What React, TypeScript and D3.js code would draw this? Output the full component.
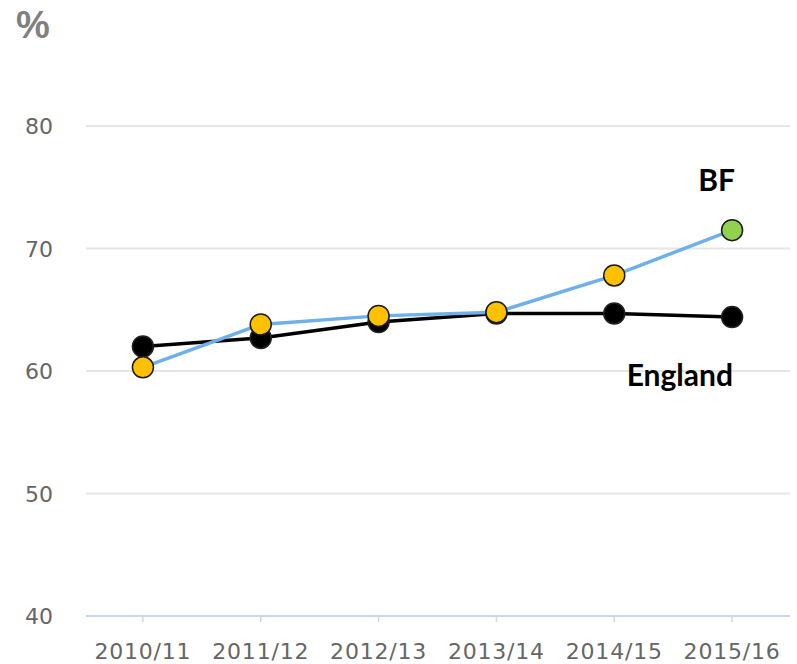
import React from "react";
import * as d3 from "d3";

const categories = ["2010/11", "2011/12", "2012/13", "2013/14", "2014/15", "2015/16"];
const englandValues = [62.0, 62.7, 64.0, 64.7, 64.7, 64.4];
const bfValues = [60.3, 63.8, 64.5, 64.8, 67.8, 71.5];
const bfColors = ["#FFC000", "#FFC000", "#FFC000", "#FFC000", "#FFC000", "#92D050"];
const yTicks = [40, 50, 60, 70, 80];

export default function App() {
  const W = 797, H = 664;
  const x = d3.scaleBand<string>().domain(categories).range([84, 791]);
  const y = d3.scaleLinear().domain([40, 80]).range([616, 126]);
  const cx = (c: string) => (x(c) as number) + x.bandwidth() / 2;
  const line = d3.line<number>().x((_, i) => cx(categories[i])).y(v => y(v));

  return (
    <svg width={W} height={H} style={{ position: "absolute", left: 0, top: 0, background: "#fff" }}>
      <text x={16} y={38} fontFamily="Liberation Sans, Arial, sans-serif" fontWeight="bold" fontSize={38} fill="#808080">%</text>
      {yTicks.map(t => (
        <g key={t}>
          {t !== 40 && <line x1={86} x2={790} y1={y(t)} y2={y(t)} stroke="#e6e6e6" strokeWidth={2} />}
          <text x={53} y={y(t) + 8} textAnchor="end" fontFamily="DejaVu Sans, sans-serif" fontSize={22} fill="#666">{t}</text>
        </g>
      ))}
      <line x1={86} x2={790} y1={y(40)} y2={y(40)} stroke="#ccd6eb" strokeWidth={2} />
      {categories.map(c => (
        <g key={c}>
          <line x1={cx(c)} x2={cx(c)} y1={y(40)} y2={y(40) + 6} stroke="#ccd6eb" strokeWidth={1.5} />
          <text x={cx(c)} y={y(40) + 43} textAnchor="middle" fontFamily="DejaVu Sans, sans-serif" fontSize={22} letterSpacing={0.8} fill="#666">{c}</text>
        </g>
      ))}
      <path d={line(englandValues) as string} fill="none" stroke="#000" strokeWidth={3.5} />
      <path d={line(bfValues) as string} fill="none" stroke="#6fb0ea" strokeWidth={3.5} />
      {englandValues.map((v, i) => (
        <circle key={"e" + i} cx={cx(categories[i])} cy={y(v)} r={10.5} fill="#000" stroke="#222" strokeWidth={1.5} />
      ))}
      {bfValues.map((v, i) => (
        <circle key={"b" + i} cx={cx(categories[i])} cy={y(v)} r={10.5} fill={bfColors[i]} stroke="#1a1a1a" strokeWidth={1.5} />
      ))}
      <text x={735} y={191} textAnchor="end" fontFamily="Lato, sans-serif" fontWeight="bold" fontSize={30} fill="#000">BF</text>
      <text x={733} y={386} textAnchor="end" fontFamily="Lato, sans-serif" fontWeight="bold" fontSize={30} fill="#000">England</text>
    </svg>
  );
}
